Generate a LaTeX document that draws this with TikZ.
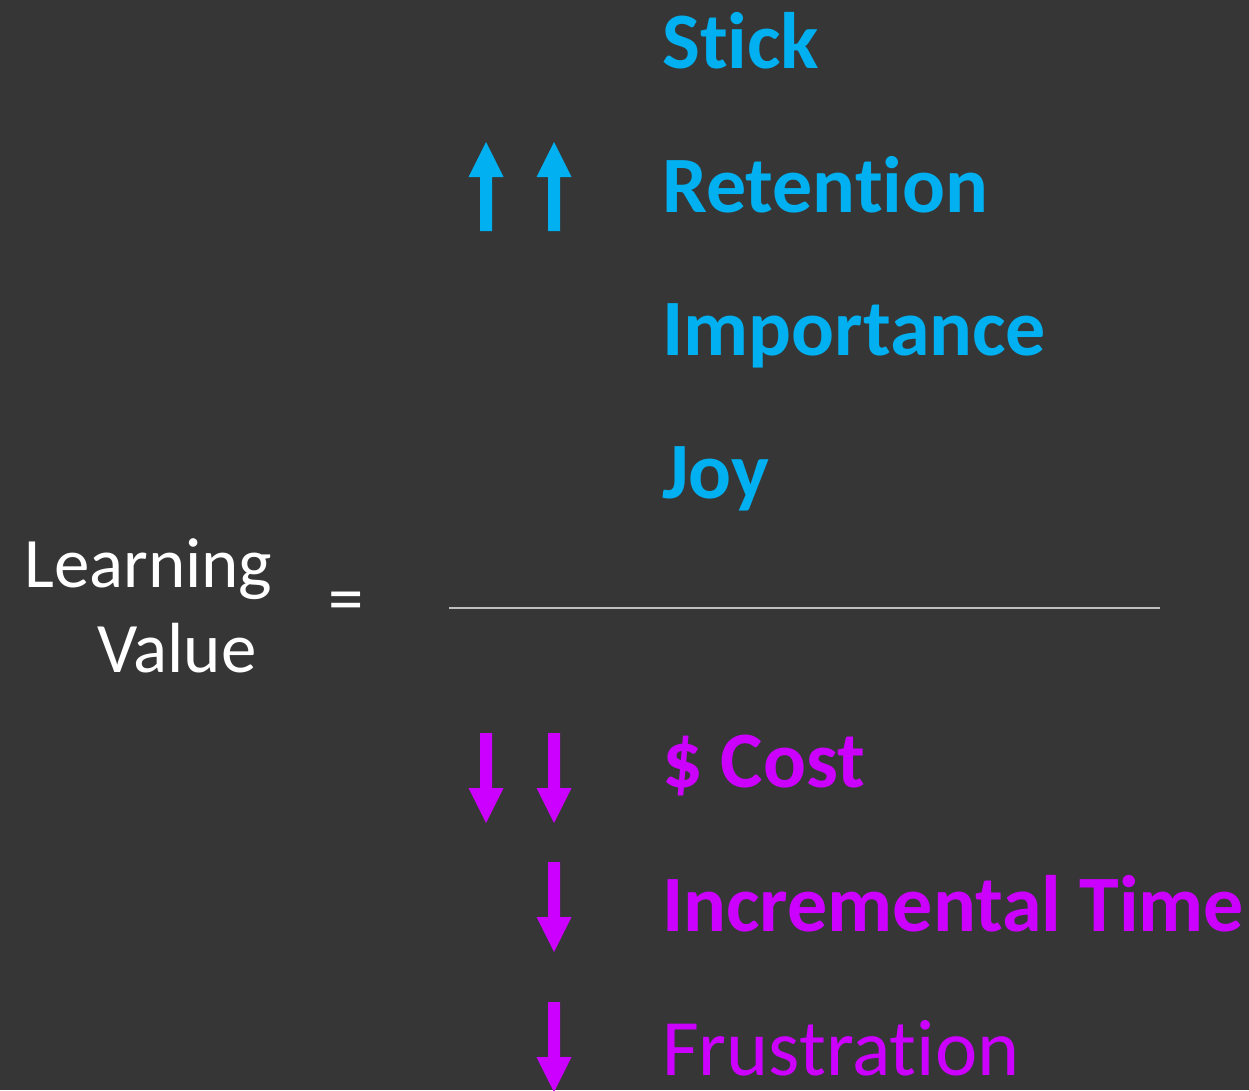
\documentclass[tikz,border=0pt]{standalone}
\usepackage{fontspec}
\setmainfont{Carlito}[Ligatures={NoCommon,NoRequired,NoContextual}]
\definecolor{bgdark}{HTML}{363636}
\definecolor{upblue}{HTML}{00B0F0}
\definecolor{downpurple}{HTML}{CC00FF}
\definecolor{rulegray}{HTML}{BFBFBF}
\begin{document}
\begin{tikzpicture}[x=1pt,y=-1pt,
  numer/.style={anchor=base west,inner sep=0pt,text=upblue,font=\fontsize{80}{96}\selectfont\bfseries},
  denom/.style={anchor=base west,inner sep=0pt,text=downpurple,font=\fontsize{80}{96}\selectfont\bfseries},
  lhs/.style={anchor=base west,inner sep=0pt,text=white,font=\fontsize{71}{86}\selectfont},
  pics/arrowup/.style={code={\fill[upblue] (-6,89) -- (-6,35) -- (-17.5,35) -- (0,0) -- (17.5,35) -- (6,35) -- (6,89) -- cycle;}},
  pics/arrowdown/.style={code={\fill[downpurple] (-6,0) -- (-6,55) -- (-17.5,55) -- (0,90) -- (17.5,55) -- (6,55) -- (6,0) -- cycle;}}]
\fill[bgdark] (0,0) rectangle (1249,1090);
\useasboundingbox (0,0) rectangle (1249,1090);

% numerator terms
\node[numer] (stick) at (662,68) {Stick};
\node[numer] (retention) at (662,212) {Retention};
\node[numer] (importance) at (662,355) {Importance};
\node[numer] (joy) at (662,498) {Joy};

% fraction bar
\coordinate (barL) at (449,608);
\coordinate (barR) at (1160,608);
\draw[rulegray,line width=2pt] (barL) -- (barR);

% denominator terms
\node[denom] (cost) at (662,787) {\$ Cost};
\node[denom] (time) at (662,931) {Incremental Time};
\node[anchor=base west,inner sep=0pt,text=downpurple,font=\fontsize{80}{96}\selectfont] (frust) at (662,1075) {Frustration};

% left-hand side
\node[lhs] (learning) at (24,587) {Learning};
\node[lhs] (value) at (97,672) {Value};
\node[lhs] (eq) at (328,622) {=};

% direction arrows
\pic at (486,142) {arrowup};
\pic at (554,142) {arrowup};
\pic at (486,733) {arrowdown};
\pic at (554,733) {arrowdown};
\pic at (554,862) {arrowdown};
\pic at (554,1002) {arrowdown};
\end{tikzpicture}
\end{document}
